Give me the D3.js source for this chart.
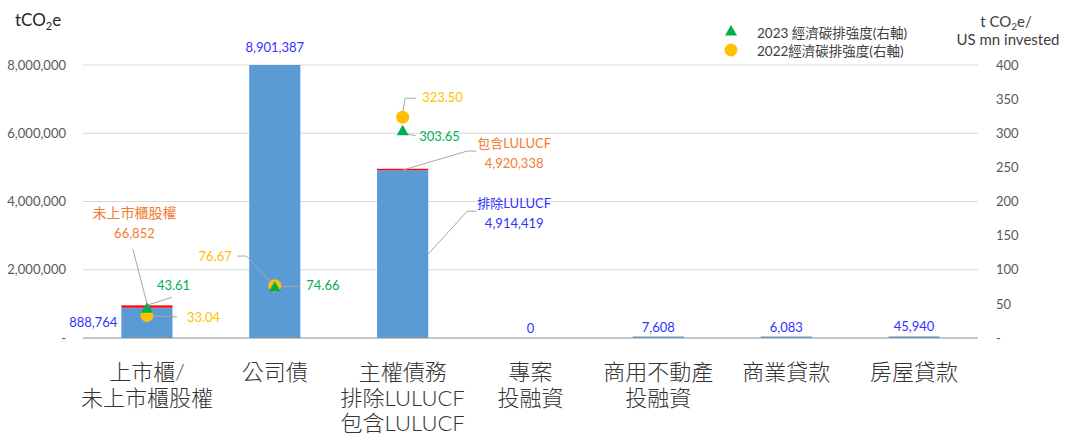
<!DOCTYPE html>
<html>
<head>
<meta charset="utf-8">
<script src="https://cdn.jsdelivr.net/npm/d3@7"></script>
<style>
  body { margin: 0; background: #fff; }
  svg { display: block; font-family: Lato, 'Noto Sans CJK TC', sans-serif; }
</style>
</head>
<body>
<svg id="chart" width="1071" height="436"></svg>
<script>
const categories = ['上市櫃/\n未上市櫃股權', '公司債', '主權債務\n排除LULUCF\n包含LULUCF', '專案\n投融資', '商用不動產\n投融資', '商業貸款', '房屋貸款'];
const baseEmissions = [888764, 8901387, 4914419, 0, 7608, 6083, 45940];
const extraEmissions = [66852, 0, 4920338 - 4914419, 0, 0, 0, 0];
const intensity2023 = [43.61, 74.66, 303.65, null, null, null, null];
const intensity2022 = [33.04, 76.67, 323.50, null, null, null, null];
const leftTicks = [0, 2000000, 4000000, 6000000, 8000000];
const rightTicks = [0, 50, 100, 150, 200, 250, 300, 350, 400];
const legendLabels = ['2023 經濟碳排強度(右軸)', '2022經濟碳排強度(右軸)'];

const blue = '#5b9bd5', red = '#ff0000', green = '#00b050', yellow = '#ffc000';
const blueText = '#3333ff', orangeText = '#f57a32', grey = '#595959', leaderGrey = '#a6a6a6';

const svg = d3.select('#chart'),
  margin = { top: 65, right: 93, bottom: 98, left: 83 },
  width = +svg.attr('width') - margin.left - margin.right,
  height = +svg.attr('height') - margin.top - margin.bottom,
  g = svg.append('g').attr('transform', 'translate(' + margin.left + ',' + margin.top + ')');

const x = d3.scaleBand()
  .domain(d3.range(categories.length))
  .range([0, width])
  .paddingInner(0.6)
  .paddingOuter(0.3);

const yL = d3.scaleLinear().domain([0, 8000000]).range([height, 0]).clamp(true);
const yR = d3.scaleLinear().domain([0, 400]).range([height, 0]);
const cx = i => x(i) + x.bandwidth() / 2;
const fmt = d3.format(',');

// gridlines
g.append('g')
  .selectAll('line')
  .data(leftTicks.filter(d => d > 0))
  .join('line')
  .attr('x1', 0).attr('x2', width)
  .attr('y1', d => yL(d)).attr('y2', d => yL(d))
  .attr('stroke', '#d9d9d9');

// left axis
g.append('g')
  .call(d3.axisLeft(yL).tickValues(leftTicks).tickSize(0).tickPadding(17)
    .tickFormat(d => d === 0 ? '-' : fmt(d)))
  .call(a => a.select('.domain').remove())
  .selectAll('text')
  .attr('fill', grey)
  .attr('font-size', 13)
  .attr('font-family', 'Lato, sans-serif');

// right axis
g.append('g')
  .attr('transform', 'translate(' + width + ',0)')
  .call(d3.axisRight(yR).tickValues(rightTicks).tickSize(0).tickPadding(18)
    .tickFormat(d => d === 0 ? '-' : d))
  .call(a => a.select('.domain').remove())
  .selectAll('text')
  .attr('fill', grey)
  .attr('font-size', 13)
  .attr('font-family', 'Lato, sans-serif');

// bars
const minH = (v, h) => v > 0 ? Math.max(h, 1.5) : 0;
g.append('g')
  .selectAll('rect')
  .data(baseEmissions)
  .join('rect')
  .attr('x', (d, i) => x(i))
  .attr('width', x.bandwidth())
  .attr('y', d => height - minH(d, height - yL(d)))
  .attr('height', d => minH(d, height - yL(d)))
  .attr('fill', blue);

g.append('g')
  .selectAll('rect')
  .data(extraEmissions)
  .join('rect')
  .attr('x', (d, i) => x(i))
  .attr('width', x.bandwidth())
  .attr('y', (d, i) => {
    const top = yL(baseEmissions[i]);
    return top - minH(d, top - yL(baseEmissions[i] + d));
  })
  .attr('height', (d, i) => {
    const top = yL(baseEmissions[i]);
    return minH(d, top - yL(baseEmissions[i] + d));
  })
  .attr('fill', red);

// x axis line
g.append('line')
  .attr('x1', 0).attr('x2', width)
  .attr('y1', height).attr('y2', height)
  .attr('stroke', '#8c8c8c');

// category labels
g.append('g')
  .selectAll('text')
  .data(categories)
  .join('text')
  .attr('text-anchor', 'middle')
  .attr('font-size', 22)
  .attr('font-weight', 300)
  .attr('fill', '#333')
  .attr('transform', (d, i) => 'translate(' + cx(i) + ',' + (height + 42) + ')')
  .selectAll('tspan')
  .data(d => d.split('\n'))
  .join('tspan')
  .attr('x', 0)
  .attr('y', (d, j) => j * 25.5)
  .text(d => d);

// leader lines + labels
const leader = pts => g.append('polyline')
  .attr('points', pts.map(p => p.join(',')).join(' '))
  .attr('fill', 'none')
  .attr('stroke', leaderGrey)
  .attr('stroke-width', 1);

const label = (tx, ty, lines, color, anchor, size) => g.append('text')
  .attr('text-anchor', anchor)
  .attr('font-size', size || 13)
  .attr('fill', color)
  .selectAll('tspan')
  .data(lines)
  .join('tspan')
  .attr('x', tx)
  .attr('y', (d, j) => ty + j * 20)
  .attr('dy', '0.35em')
  .text(d => d);

// 上市櫃 / 未上市櫃
{
  const i = 0, px = cx(i);
  const top = yL(baseEmissions[i] + extraEmissions[i]) - 2;
  leader([[px - 14, top - 54], [px, top]]);
  label(px - 12.5, top - 90, ['未上市櫃股權'], orangeText, 'middle', 14);
  label(px - 12.5, top - 70, [fmt(extraEmissions[i])], orangeText, 'middle');
  label(x(i) - 4, yL(baseEmissions[i] / 2), [fmt(baseEmissions[i])], blueText, 'end');
  const t = yR(intensity2023[i]), c = yR(intensity2022[i]);
  leader([[px, t - 3], [px + 25, t - 11]]);
  label(px + 10, t - 23, [intensity2023[i].toFixed(2)], green, 'start');
  leader([[px, c], [px + 30, c + 1.5]]);
  label(px + 40, c + 1.5, [intensity2022[i].toFixed(2)], yellow, 'start');
}

// 公司債
{
  const i = 1, px = cx(i);
  label(px, yL(baseEmissions[i]) - 18, [fmt(baseEmissions[i])], blueText, 'middle');
  const t = yR(intensity2023[i]), c = yR(intensity2022[i]);
  leader([[px - 2, c - 2], [px - 28.5, c - 29.6], [px - 37.5, c - 29.6]]);
  label(px - 43, c - 29.6, [intensity2022[i].toFixed(2)], yellow, 'end');
  leader([[px, t], [px + 25, t - 1]]);
  label(px + 31.5, t - 1.5, [intensity2023[i].toFixed(2)], green, 'start');
}

// 主權債務
{
  const i = 2, px = cx(i);
  const total = baseEmissions[i] + extraEmissions[i];
  const top = yL(total), rx = x(i) + x.bandwidth(), mid = yL(baseEmissions[i] / 2);
  leader([[px, top], [px + 64.5, top - 19], [px + 73.5, top - 19]]);
  label(px + 111.5, top - 27, ['包含LULUCF', fmt(total)], orangeText, 'middle');
  leader([[rx, mid], [rx + 39, mid - 43], [rx + 48, mid - 43]]);
  label(rx + 86, mid - 51, ['排除LULUCF', fmt(baseEmissions[i])], blueText, 'middle');
  const t = yR(intensity2023[i]), c = yR(intensity2022[i]);
  leader([[px, c - 5], [px + 2.5, c - 19], [px + 13, c - 19]]);
  label(px + 19.5, c - 19.7, [intensity2022[i].toFixed(2)], yellow, 'start');
  leader([[px + 4, t + 3], [px + 13, t + 5]]);
  label(px + 16.5, t + 6, [intensity2023[i].toFixed(2)], green, 'start');
}

// small bars
[3, 4, 5, 6].forEach(i => {
  label(cx(i), yL(baseEmissions[i]) - 10, [fmt(baseEmissions[i])], blueText, 'middle');
});

// intensity markers
const pts22 = intensity2022.map((d, i) => ({ d, i })).filter(p => p.d != null);
const pts23 = intensity2023.map((d, i) => ({ d, i })).filter(p => p.d != null);

g.append('g')
  .selectAll('circle')
  .data(pts22)
  .join('circle')
  .attr('cx', p => cx(p.i))
  .attr('cy', p => yR(p.d))
  .attr('r', 6.5)
  .attr('fill', yellow);

g.append('g')
  .selectAll('path')
  .data(pts23)
  .join('path')
  .attr('transform', p => 'translate(' + cx(p.i) + ',' + (yR(p.d) + 1) + ')')
  .attr('d', d3.symbol(d3.symbolTriangle, 62))
  .attr('fill', green);

// axis titles
const lt = svg.append('text')
  .attr('x', 15).attr('y', 26)
  .attr('font-size', 17)
  .attr('fill', '#262626');
lt.append('tspan').text('tCO');
lt.append('tspan').attr('font-size', 11).attr('dy', 4).text('2');
lt.append('tspan').attr('dy', -4).text('e');

const rt = svg.append('text')
  .attr('x', 1006).attr('y', 27)
  .attr('text-anchor', 'middle')
  .attr('font-size', 15)
  .attr('fill', '#404040');
rt.append('tspan').text('t CO');
rt.append('tspan').attr('font-size', 10).attr('dy', 3).text('2');
rt.append('tspan').attr('dy', -3).text('e/');
svg.append('text')
  .attr('x', 1008).attr('y', 45)
  .attr('text-anchor', 'middle')
  .attr('font-size', 15)
  .attr('fill', '#404040')
  .text('US mn invested');

// legend
const legend = svg.append('g').attr('transform', 'translate(731,32)');
legend.append('path')
  .attr('d', d3.symbol(d3.symbolTriangle, 62))
  .attr('fill', green);
legend.append('circle')
  .attr('cy', 18)
  .attr('r', 6.5)
  .attr('fill', yellow);
legend.selectAll('text')
  .data(legendLabels)
  .join('text')
  .attr('x', 26)
  .attr('y', (d, i) => 1 + i * 18)
  .attr('dy', '0.35em')
  .attr('font-size', 13.5)
  .attr('fill', '#404040')
  .text(d => d);
</script>
</body>
</html>
